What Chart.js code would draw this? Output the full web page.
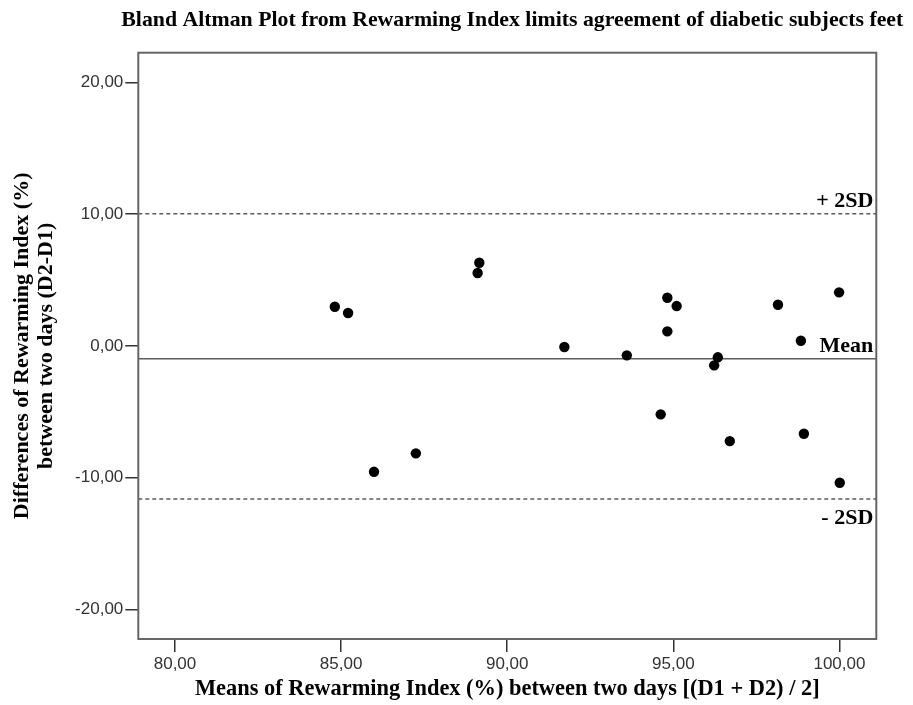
<!DOCTYPE html>
<html>
<head>
<meta charset="utf-8">
<script src="https://cdn.jsdelivr.net/npm/chart.js@4.4.1/dist/chart.umd.min.js"></script>
<style>
  html, body { margin: 0; padding: 0; background: #fff; }
  #wrap { width: 913px; height: 705px; }
</style>
</head>
<body>
<div id="wrap"><canvas id="ba"></canvas></div>
<script>
// Bland-Altman: Rewarming Index, sujetos diabéticos

// media de los dos días (eje x) y diferencia D2-D1 (eje y)
var meanValues = [84.81, 85.21, 85.99, 87.25, 89.16, 89.11, 91.72, 93.60, 94.62, 94.82,
                  94.82, 95.10, 96.23, 96.34, 96.70, 98.15, 98.84, 98.93, 99.99, 100.01];
var diffValues = [2.97, 2.49, -9.56, -8.16, 6.31, 5.53, -0.09, -0.72, -5.20, 3.65,
                  1.10, 3.02, -1.48, -0.87, -7.23, 3.12, 0.39, -6.67, 4.06, -10.39];

var xTicks = [80, 85, 90, 95, 100];
var yTicks = [-20, -10, 0, 10, 20];

// +2SD, media, -2SD
var limitValues = [10.03, -0.98, -11.63];
var limitLabels = ['+ 2SD', 'Mean', '- 2SD'];

var chartTitle = 'Bland Altman Plot from Rewarming Index limits agreement of diabetic subjects feet';

var serif = '"Liberation Serif", "Times New Roman", serif';
var sans = '"Liberation Sans", Arial, sans-serif';

function fmt(v) {
  return v.toFixed(2).replace('.', ',');
}

var points = meanValues.map(function (m, i) {
  return { x: m, y: diffValues[i] };
});

// lineas de la media y limites de acuerdo, marco y titulo
var limitLines = {
  id: 'limitLines',
  beforeDatasetsDraw: function (chart) {
    var ctx = chart.ctx, area = chart.chartArea, y = chart.scales.y;
    ctx.save();
    limitValues.forEach(function (v, i) {
      var py = y.getPixelForValue(v);
      ctx.beginPath();
      ctx.setLineDash(i === 1 ? [] : [4, 3]);
      ctx.strokeStyle = '#5c5c5c';
      ctx.lineWidth = 1.5;
      ctx.moveTo(area.left, py);
      ctx.lineTo(area.right, py);
      ctx.stroke();
    });
    ctx.restore();
  },
  afterDatasetsDraw: function (chart) {
    var ctx = chart.ctx, area = chart.chartArea, y = chart.scales.y;
    ctx.save();
    ctx.font = 'bold 22px ' + serif;
    ctx.fillStyle = '#000';
    ctx.textAlign = 'right';
    ctx.textBaseline = 'alphabetic';
    limitValues.forEach(function (v, i) {
      var py = y.getPixelForValue(v);
      var ty = i === 2 ? py + 25 : py - 7;
      ctx.fillText(limitLabels[i], area.right - 3, ty);
    });
    ctx.strokeStyle = '#666';
    ctx.lineWidth = 2;
    ctx.strokeRect(area.left, area.top, area.right - area.left, area.bottom - area.top);

    // titulo: sobresale del area del grafico hacia la derecha
    ctx.font = 'bold 21.8px ' + serif;
    ctx.textAlign = 'center';
    ctx.textBaseline = 'middle';
    ctx.fillText(chartTitle, (area.left + area.right) / 2 + 5, 20);
    ctx.restore();
  }
};

new Chart(document.getElementById('ba'), {
  type: 'scatter',
  data: {
    datasets: [{
      data: points,
      backgroundColor: '#000',
      borderWidth: 0,
      pointRadius: 5.2
    }]
  },
  options: {
    responsive: true,
    maintainAspectRatio: false,
    animation: false,
    layout: { padding: { left: 0, right: 36.7, top: 52.7, bottom: 0 } },
    plugins: {
      legend: { display: false },
      tooltip: { enabled: false },
      title: { display: false }
    },
    scales: {
      x: {
        type: 'linear',
        min: 78.895,
        max: 101.11,
        afterBuildTicks: function (scale) {
          scale.ticks = xTicks.map(function (v) { return { value: v }; });
        },
        afterFit: function (scale) { scale.height = 66; },
        ticks: {
          callback: fmt,
          color: '#333',
          font: { family: sans, size: 17 },
          padding: 2,
          maxRotation: 0
        },
        grid: { drawOnChartArea: false, drawTicks: true, tickLength: 13, color: '#333', lineWidth: 1.5 },
        border: { display: false },
        title: {
          display: true,
          text: 'Means of Rewarming Index (%) between two days [(D1 + D2) / 2]',
          color: '#000',
          font: { family: serif, size: 22.4, weight: 'bold', lineHeight: 1.1 },
          padding: { top: 0, bottom: 3 }
        }
      },
      y: {
        type: 'linear',
        min: -22.25,
        max: 22.25,
        afterBuildTicks: function (scale) {
          scale.ticks = yTicks.map(function (v) { return { value: v }; });
        },
        afterFit: function (scale) { scale.width = 138.3; },
        ticks: {
          callback: fmt,
          color: '#333',
          font: { family: sans, size: 17 },
          padding: 2
        },
        grid: { drawOnChartArea: false, drawTicks: true, tickLength: 13, color: '#333', lineWidth: 1.5 },
        border: { display: false },
        title: {
          display: true,
          text: ['Differences of Rewarming Index (%)', 'between two days (D2-D1)'],
          color: '#000',
          font: { family: serif, size: 22, weight: 'bold', lineHeight: 1.1 },
          padding: { top: 10, bottom: 0 }
        }
      }
    }
  },
  plugins: [limitLines]
});
</script>
</body>
</html>
